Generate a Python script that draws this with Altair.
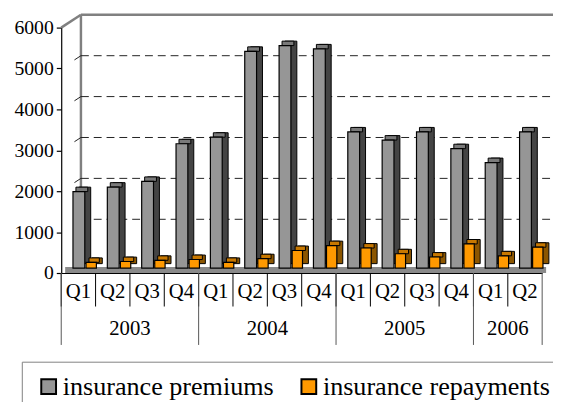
import altair as alt
import pandas as pd

# ---- data ----
years = ["2003"] * 4 + ["2004"] * 4 + ["2005"] * 4 + ["2006"] * 2
quarters = ["Q1", "Q2", "Q3", "Q4"] * 3 + ["Q1", "Q2"]
premiums = [1870, 1980, 2120, 3040, 3200, 5300, 5440, 5360, 3330, 3130, 3330, 2920, 2580, 3330]
repayments = [140, 160, 190, 210, 140, 230, 430, 550, 490, 350, 270, 590, 300, 510]
series_names = ["insurance premiums", "insurance repayments"]
y_ticks = [0, 1000, 2000, 3000, 4000, 5000, 6000]
grid_vals = [1000, 2000, 3000, 4000, 5000]
year_labels = ["2003", "2004", "2005", "2006"]

keys = [f"{y} {q}" for y, q in zip(years, quarters)]
rows = []
for k, y, q, p, r in zip(keys, years, quarters, premiums, repayments):
    rows.append(dict(key=k, year=y, quarter=q, series=series_names[0], value=p))
    rows.append(dict(key=k, year=y, quarter=q, series=series_names[1], value=r))
df = pd.DataFrame(rows)

year_first = [keys[years.index(y)] for y in year_labels]
year_anchor = []
for y in year_labels:
    idx = [i for i, yy in enumerate(years) if yy == y]
    year_anchor.append(keys[idx[0] + len(idx) // 2])
years_df = pd.DataFrame({"year": year_labels, "first": year_first, "anchor": year_anchor})
keys_df = pd.DataFrame({"key": keys})
last_df = pd.DataFrame({"key": [keys[-1]]})
grid_df = pd.DataFrame({"v": grid_vals})
zero_df = pd.DataFrame({"v": [0], "top": [6000]})

W, H = 488, 249
DX, DY = 20, 13
FONT = "Liberation Serif"

x_scale = alt.Scale(domain=keys, paddingInner=0, paddingOuter=0)
y_scale = alt.Scale(domain=[0, 6000], nice=False)
x_axis = alt.Axis(title=None, labelExpr="split(datum.label, ' ')[1]", labelFont=FONT,
                  labelFontSize=21, labelColor="black", labelPadding=8, ticks=False,
                  domainColor="black", domainWidth=1.2, labelAngle=0)
y_axis = alt.Axis(title=None, values=y_ticks, labelFont=FONT, labelFontSize=20,
                  labelColor="black", tickColor="black", tickSize=5, tickWidth=1.2,
                  domainColor="black", domainWidth=1.2, labelPadding=3, grid=False, format="d")


def X(field="key:N", **kw):
    return alt.X(field, scale=x_scale, axis=x_axis, **kw)


def Y(field):
    return alt.Y(field, scale=y_scale, axis=y_axis)


# ---- 3D frame: floor, back wall, gridlines ----
floor = alt.Chart(zero_df).mark_rect(color="#8a8a8a", y2Offset=-6).encode(
    x=alt.value(4), x2=alt.value(W + 4), y=Y("v:Q"), y2="v:Q")

wall_left = alt.Chart(zero_df).mark_rule(color="#808080", strokeWidth=2.5,
                                         yOffset=-DY, y2Offset=-DY).encode(
    x=alt.value(DX), y=Y("v:Q"), y2="top:Q")
wall_top = alt.Chart(zero_df).mark_rule(color="#808080", strokeWidth=2.5, yOffset=-DY).encode(
    x=alt.value(DX), x2=alt.value(W + 60), y=Y("top:Q"))
wall_diag = alt.Chart(zero_df).mark_rule(color="#808080", strokeWidth=2.5, y2Offset=-DY).encode(
    x=alt.value(0), x2=alt.value(DX), y=Y("top:Q"), y2="top:Q")

grid = alt.Chart(grid_df).mark_rule(color="#222222", strokeWidth=1, strokeDash=[8, 5],
                                    yOffset=-DY).encode(
    x=alt.value(DX), x2=alt.value(W + 60), y=Y("v:Q"))
grid_diag = alt.Chart(grid_df).mark_rule(color="#222222", strokeWidth=1,
                                         strokeDash=[0, 16, 8, 10], y2Offset=-DY).encode(
    x=alt.value(0), x2=alt.value(DX), y=Y("v:Q"), y2="v:Q")

color_enc = alt.Color("series:N", scale=alt.Scale(domain=series_names, range=["#969696", "#FF9900"]),
                      legend=alt.Legend(title=None, orient="none", legendX=-40, legendY=339,
                                        direction="horizontal", symbolType="square", symbolSize=225,
                                        symbolStrokeColor="black", symbolStrokeWidth=2,
                                        labelFont=FONT, labelFontSize=26.5, labelColor="black",
                                        labelOffset=1, labelLimit=400, columnPadding=20,
                                        padding=12, symbolOffset=2, strokeColor="#808080",
                                        fillColor="white"))


def bar_layers(series, width, shift, front, top, side):
    base = alt.Chart(df).transform_filter(alt.datum.series == series)
    s = base.mark_bar(width=width, xOffset=shift + 6, yOffset=-9.5, y2Offset=-9.5,
                      fill=side, stroke="black", strokeWidth=1).encode(x=X(), y=Y("value:Q"))
    t = base.mark_bar(width=width, xOffset=shift + 3, yOffset=-9.5, y2Offset=-5,
                      fill=top, stroke="black", strokeWidth=1).encode(
        x=X(), y=Y("value:Q"), y2="value:Q")
    f = base.mark_bar(width=width, xOffset=shift, yOffset=-5, y2Offset=-5, opacity=1,
                      stroke="black", strokeWidth=1.2).encode(x=X(), y=Y("value:Q"), color=color_enc)
    return [s, t, f]


gray = bar_layers(series_names[0], 12, 0.5, "#969696", "#7a7a7a", "#444444")
orange = bar_layers(series_names[1], 10.5, 13, "#FF9900", "#C87800", "#8C5600")

# ---- two-level category axis ----
sep_q = alt.Chart(keys_df).mark_rule(color="black", strokeWidth=1).encode(
    x=X("key:N", bandPosition=0), y=alt.value(H), y2=alt.value(H + 34))
sep_y = alt.Chart(years_df).mark_rule(color="#555555", strokeWidth=1).encode(
    x=X("first:N", bandPosition=0), y=alt.value(H), y2=alt.value(H + 73))
sep_end = alt.Chart(last_df).mark_rule(color="#555555", strokeWidth=1).encode(
    x=X("key:N", bandPosition=1), y=alt.value(H), y2=alt.value(H + 73))
year_text = alt.Chart(years_df).mark_text(font=FONT, fontSize=21, color="black",
                                          baseline="middle", align="center").encode(
    x=X("anchor:N", bandPosition=0), y=alt.value(H + 57), text="year:N")

chart = alt.layer(
    floor, wall_left, wall_top, wall_diag, grid, grid_diag,
    *gray, *orange,
    sep_q, sep_y, sep_end, year_text,
).properties(
    width=W, height=H,
    padding={"left": 54, "top": 17, "right": 11, "bottom": 128},
    autosize=alt.AutoSizeParams(type="none"),
    background="white",
).configure(font=FONT).configure_view(stroke=None)

chart.save("out.html", embed_options={"renderer": "svg", "actions": False})
